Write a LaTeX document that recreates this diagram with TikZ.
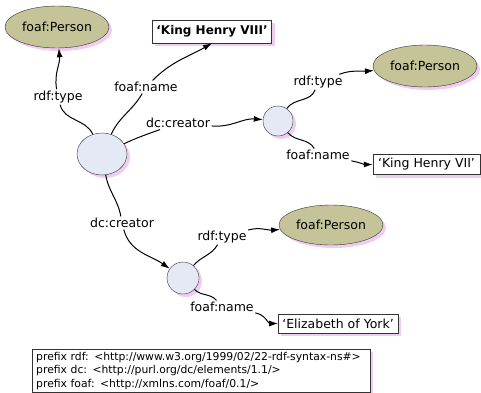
\documentclass[tikz,border=0pt]{standalone}
\usepackage{fontspec}
\setmainfont{DejaVu Sans}
\usepackage{tikz}
\usetikzlibrary{shapes.geometric,arrows.meta,shadows}

\definecolor{personfill}{RGB}{196,196,152}
\definecolor{blankfill}{RGB}{228,233,245}
\definecolor{shadowpink}{RGB}{240,205,240}

\begin{document}
\begin{tikzpicture}[x=1pt, y=1pt,
  pinkshadow/.style={drop shadow={shadow xshift=3pt, shadow yshift=-3pt, fill=shadowpink, opacity=1}},
  person/.style={ellipse, draw=black!80, fill=personfill, minimum width=104pt, minimum height=42pt, inner sep=0pt, font=\fontsize{12.5}{14}\selectfont, pinkshadow},
  blank/.style={ellipse, draw=black!80, fill=blankfill, inner sep=0pt, pinkshadow},
  literal/.style={rectangle, draw=black!80, fill=white, minimum height=20pt, inner sep=4pt, font=\fontsize{12.5}{14}\selectfont, pinkshadow},
  prop/.style={inner sep=1.5pt, font=\fontsize{12.5}{14}\selectfont},
  arc/.style={line width=1pt, -{Latex[length=9pt,width=6pt]}},
  seg/.style={line width=1pt}]

\useasboundingbox (0,0) rectangle (481,392);

\node[person] (typeA) at (57,365) {foaf:Person};
\node[literal, font=\bfseries\fontsize{12}{14}\selectfont, minimum height=23pt] (nameA) at (212,360.5) {`King Henry VIII'};
\node[blank, minimum width=50pt, minimum height=42pt] (main) at (102,238) {};

\node[blank, minimum size=30pt] (mid1) at (278,271) {};
\node[person] (typeB) at (425,326) {foaf:Person};
\node[literal, minimum width=107pt] (nameB) at (426.5,227.5) {`King Henry VII'};

\node[blank, minimum size=32pt] (mid2) at (183,114) {};
\node[person, minimum height=40pt] (typeC) at (331,167) {foaf:Person};
\node[literal, minimum height=19pt] (nameC) at (338,68.5) {`Elizabeth of York'};

\node[prop] (t1) at (58,295) {rdf:type};
\node[prop] (n1) at (146,305) {foaf:name};
\node[prop] (c1) at (178,269) {dc:creator};
\node[prop] (t2) at (318,310) {rdf:type};
\node[prop] (n2) at (318,237) {foaf:name};
\node[prop] (c2) at (122,169) {dc:creator};
\node[prop] (t3) at (222,155) {rdf:type};
\node[prop] (n3) at (222,85) {foaf:name};

\draw[seg] (main) to[out=115,in=-75] (t1);
\draw[arc] (t1) to[out=100,in=-85] (typeA);
\draw[seg] (main) to[out=65,in=-120] (n1);
\draw[arc] (n1) to[out=45,in=-150] (nameA.south);
\draw[seg] (main) to[out=25,in=200] (c1);
\draw[arc] (c1) to[out=-5,in=175] (mid1);

\draw[seg] (mid1) to[out=55,in=-110] (t2);
\draw[arc] (t2) to[out=20,in=185] (typeB);
\draw[seg] (mid1) to[out=-50,in=120] (n2);
\draw[arc] (n2) to[out=-10,in=180] (nameB);

\draw[seg] (main) to[out=-80,in=100] (c2);
\draw[arc] (c2) to[out=-75,in=145] (mid2);
\draw[seg] (mid2) to[out=50,in=-120] (t3);
\draw[arc] (t3) to[out=15,in=185] (typeC);
\draw[seg] (mid2) to[out=-45,in=130] (n3);
\draw[arc] (n3) to[out=-10,in=180] (nameC);

\node[rectangle, draw=black!80, fill=white, anchor=north west, minimum width=338pt, minimum height=42pt, inner sep=3pt, text width=330pt, align=left, font=\fontsize{10.8}{13.3}\selectfont, pinkshadow] (prefix) at (32,43)
  {prefix rdf: <http://www.w3.org/1999/02/22-rdf-syntax-ns\#>\\
   prefix dc: <http://purl.org/dc/elements/1.1/>\\
   prefix foaf: <http://xmlns.com/foaf/0.1/>};

\end{tikzpicture}
\end{document}
